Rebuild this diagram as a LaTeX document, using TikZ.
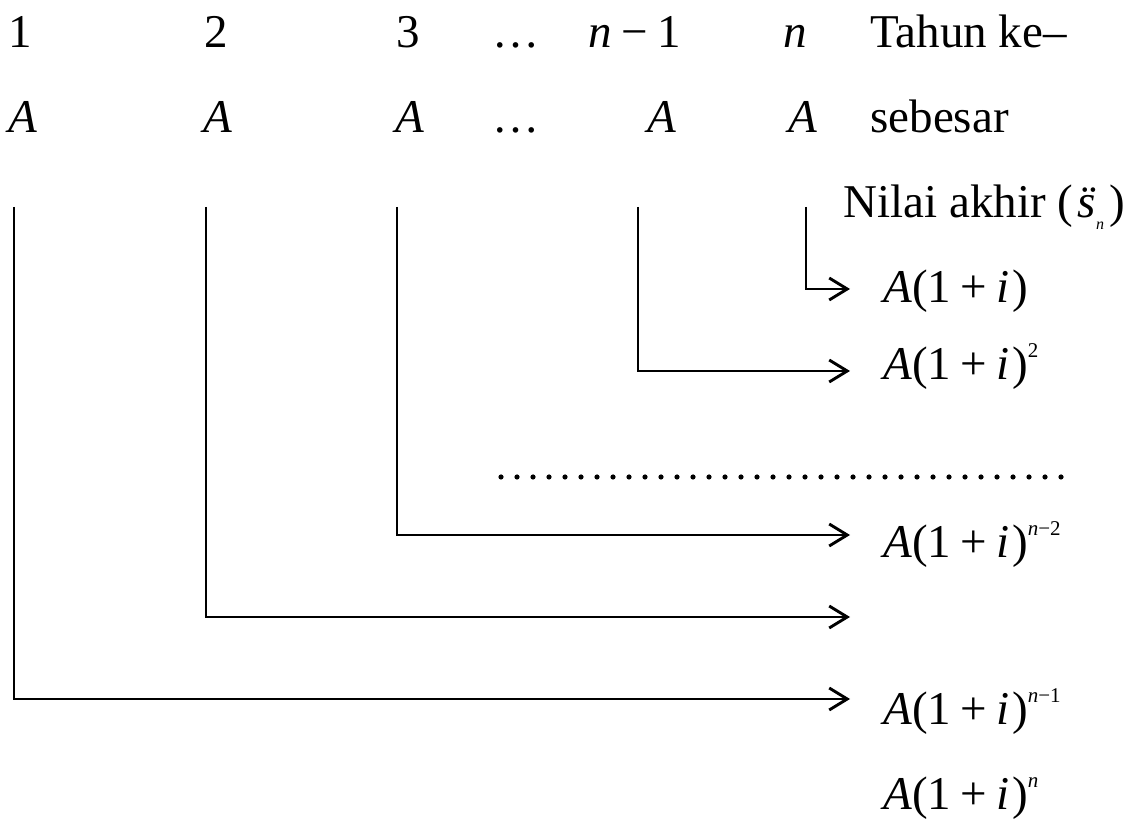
\documentclass[tikz,border=0pt]{standalone}
\usepackage{fontspec}
\setmainfont{Liberation Serif}
\usepackage{tikz}
\usetikzlibrary{arrows.meta}

\newcommand{\bigfont}{\fontsize{23.5pt}{28pt}\selectfont}
\newcommand{\pw}[1]{\raisebox{1.05ex}{\fontsize{10.5pt}{12pt}\selectfont #1}}
\newcommand{\grow}{\textit{A}(1\hspace{0.2em}+\hspace{0.2em}\textit{i}\kern0.05em)}
\newcommand{\sdd}{\ooalign{\textit{s}\cr\hidewidth\kern0.08em¨\hidewidth\cr}}

\begin{document}
\begin{tikzpicture}[x=0.5pt, y=-0.5pt,
	txt/.style={inner sep=0pt, anchor=base, font=\bigfont},
	txtw/.style={inner sep=0pt, anchor=base west, font=\bigfont},
	flow/.style={line width=1.45pt, -{Straight Barb[length=9pt, width=11pt]}},
	dots/.style={line width=2.6pt, line cap=round, dash pattern=on 0pt off 8pt}]

	\useasboundingbox (0,0) rectangle (1137,823);

	\node[txt] (yr1) at (20,48)  {1};
	\node[txt] (yr2) at (216,48) {2};
	\node[txt] (yr3) at (408,48) {3};
	\node[txt] (yrd) at (516,48) {\dots};
	\node[txt] (yrm) at (635,48) {\textit{n}\hspace{0.2em}−\hspace{0.2em}1};
	\node[txt] (yrn) at (795,48) {\textit{n}};
	\node[txtw] (yrlabel) at (870,48) {Tahun ke–};

	\node[txt] (pay1) at (23,133)  {\textit{A}};
	\node[txt] (pay2) at (218,133) {\textit{A}};
	\node[txt] (pay3) at (410,133) {\textit{A}};
	\node[txt] (payd) at (516,133) {\dots};
	\node[txt] (paym) at (662,133) {\textit{A}};
	\node[txt] (payn) at (803,133) {\textit{A}};
	\node[txtw] (paylabel) at (870,133) {sebesar};

	\node[txtw] (final) at (843,218) {Nilai akhir (\hspace{0.1em}\sdd\raisebox{-0.55ex}{\fontsize{8pt}{9pt}\selectfont\textit{n}}\hspace{0.12em})};

	\node[txtw] (val1) at (883,303) {\grow};
	\node[txtw] (val2) at (883,380) {\grow\pw{2}};
	\node[txtw] (valm2) at (883,558) {\grow\pw{\textit{n}−2}};
	\node[txtw] (valm1) at (883,725) {\grow\pw{\textit{n}−1}};
	\node[txtw] (valn) at (883,810) {\grow\pw{\textit{n}}};

	\coordinate (top1) at (14,207);
	\coordinate (top2) at (206,207);
	\coordinate (top3) at (397,207);
	\coordinate (topm) at (638,207);
	\coordinate (topn) at (806,207);

	\coordinate (end1) at (850,699);
	\coordinate (end2) at (850,617);
	\coordinate (end3) at (850,535);
	\coordinate (endm) at (850,371);
	\coordinate (endn) at (850,289);

	\draw[flow] (top1) |- (end1);
	\draw[flow] (top2) |- (end2);
	\draw[flow] (top3) |- (end3);
	\draw[flow] (topm) |- (endm);
	\draw[flow] (topn) |- (endn);

	\coordinate (dotsL) at (501,477);
	\coordinate (dotsR) at (1063,477);
	\draw[dots] (dotsL) -- (dotsR);
\end{tikzpicture}
\end{document}
